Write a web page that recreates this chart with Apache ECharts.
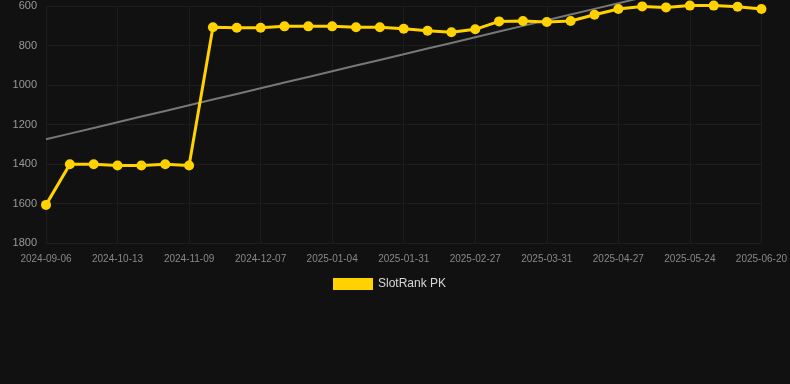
<!DOCTYPE html>
<html>
<head>
<meta charset="utf-8">
<script src="https://cdn.jsdelivr.net/npm/echarts@6/dist/echarts.min.js"></script>
<style>
html,body{margin:0;padding:0;background:#111111;}
#c{width:790px;height:384px;}
</style>
</head>
<body>
<div id="c"></div>
<script>
const dates = [
  "2024-09-06","2024-09-18","2024-09-30","2024-10-13","2024-10-22","2024-10-31",
  "2024-11-09","2024-11-18","2024-11-27","2024-12-07","2024-12-16","2024-12-25",
  "2025-01-04","2025-01-13","2025-01-22","2025-01-31","2025-02-09","2025-02-18",
  "2025-02-27","2025-03-10","2025-03-20","2025-03-31","2025-04-09","2025-04-18",
  "2025-04-27","2025-05-06","2025-05-15","2025-05-24","2025-06-02","2025-06-11",
  "2025-06-20"
];
const rankValues = [
  1607,1401,1401,1408,1408,1401,1408,
  708,710,710,703,703,703,708,708,715,725,733,718,
  678,676,681,676,644,615,602,607,598,598,604,615
];
const seriesName = "SlotRank PK";
const yTicks = [600, 800, 1000, 1200, 1400, 1600, 1800];

// linear regression trend line derived from the data
const n = rankValues.length;
let sx=0, sy=0, sxy=0, sxx=0;
rankValues.forEach((v,i)=>{sx+=i;sy+=v;sxy+=i*v;sxx+=i*i;});
const slope = (n*sxy - sx*sy)/(n*sxx - sx*sx);
const intercept = (sy - slope*sx)/n;
const trend = rankValues.map((v,i)=> intercept + slope*i);

const font = "Liberation Sans, Arial, Helvetica, sans-serif";
const chart = echarts.init(document.getElementById('c'), null, {renderer:'canvas'});
chart.setOption({
  backgroundColor: '#111111',
  animation: false,
  textStyle: {fontFamily: font},
  grid: {left: 46, right: 28, top: 6, bottom: 141, containLabel: false},
  legend: {
    data: [seriesName],
    left: 328,
    top: 273,
    icon: 'rect',
    itemWidth: 40,
    itemHeight: 12,
    itemGap: 10,
    textStyle: {color: '#d8d8d8', fontSize: 12, fontFamily: font}
  },
  xAxis: {
    type: 'category',
    data: dates,
    boundaryGap: false,
    axisLine: {show: false},
    axisTick: {show: false},
    axisLabel: {interval: 2, color: '#888888', fontSize: 10, margin: 11, fontFamily: font},
    splitLine: {show: true, interval: 2, lineStyle: {color: '#1d1d1d', width: 1}}
  },
  yAxis: {
    type: 'value',
    inverse: true,
    min: yTicks[0],
    max: yTicks[yTicks.length-1],
    interval: 200,
    axisLine: {show: false},
    axisTick: {show: false},
    axisLabel: {color: '#999999', fontSize: 11, margin: 9, fontFamily: font,
      formatter: function (v) { return String(v); }},
    splitLine: {show: true, lineStyle: {color: '#1d1d1d', width: 1}}
  },
  series: [
    {
      name: 'trend',
      type: 'line',
      data: trend,
      clip: false,
      symbol: 'none',
      silent: true,
      lineStyle: {color: '#777777', width: 2},
      z: 1
    },
    {
      name: seriesName,
      type: 'line',
      data: rankValues,
      clip: false,
      symbol: 'circle',
      symbolSize: 10,
      itemStyle: {color: '#FFD200'},
      lineStyle: {color: '#FFD200', width: 3},
      z: 2
    }
  ]
});
</script>
</body>
</html>
